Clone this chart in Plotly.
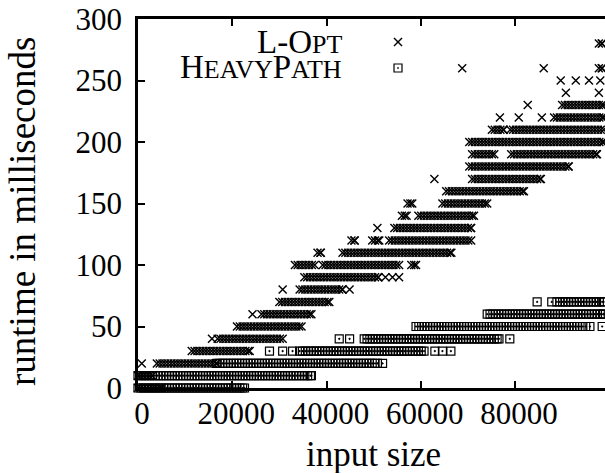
import numpy as np
import plotly.graph_objects as go

# ---- data: runs of measured points (runtime level in ms, first and last input size of the run) ----
STEP = 600  # spacing of input sizes inside a dense run

LOPT_LEVEL = [0, 10, 20, 20, 30, 40, 40, 50, 60, 60, 70, 80, 80, 80,
              90, 90, 90, 90, 100, 100, 100, 110, 110, 120, 120, 120,
              130, 130, 140, 140, 150, 150, 160, 170, 170, 180, 190, 190,
              200, 210, 210, 220, 220, 220, 220, 230, 230, 240, 240,
              250, 250, 250, 250, 260, 260, 260, 280]
LOPT_FROM = [0, 0, 800, 4000, 11400, 15700, 16900, 21000, 24300, 26200, 30000, 30700, 34300, 44900,
             35300, 52500, 54000, 55400, 33300, 39200, 58000, 38100, 43400, 45300, 49700, 53300,
             50800, 54400, 56000, 59500, 57200, 64600, 65400, 62900, 70900, 70300, 70900, 79200,
             70300, 75100, 79000, 76800, 80800, 85700, 88300, 82700, 90000, 90800, 97800,
             89700, 92900, 95700, 98100, 68800, 86100, 97800, 97800]
LOPT_TO = [5000, 3000, 800, 16700, 23700, 15700, 30700, 34700, 24300, 36800, 40600, 30700, 43400, 44900,
           51000, 52500, 54000, 55400, 37500, 55400, 59000, 38800, 66500, 46000, 51200, 70700,
           50800, 70700, 57000, 71300, 58200, 74100, 81900, 62900, 85500, 91400, 75600, 97400,
           98800, 77600, 98800, 76800, 80800, 85700, 98800, 82700, 98800, 90800, 97800,
           89700, 92900, 95700, 98100, 68800, 86100, 98500, 98500]

HEAVY_LEVEL = [0, 10, 20, 20, 30, 30, 30, 30, 30, 30, 30,
               40, 40, 40, 40, 50, 50, 50, 60, 70, 70, 70]
HEAVY_FROM = [0, 0, 16700, 51900, 27900, 30700, 32800, 34300, 63000, 64600, 66400,
              42700, 44900, 48000, 78900, 59000, 95900, 98500, 74100, 84700, 87800, 88900]
HEAVY_TO = [22600, 36800, 50800, 51900, 27900, 30700, 32800, 60700, 63000, 64600, 66400,
            42700, 44900, 76600, 78900, 95000, 95900, 98500, 98800, 84700, 87800, 98800]

X_TICKS = [0, 20000, 40000, 60000, 80000]
Y_TICKS = [0, 50, 100, 150, 200, 250, 300]
X_RANGE = [0, 99100]
Y_RANGE = [0, 300]


def expand(levels, starts, ends):
    xs, ys = [], []
    for lv, a, b in zip(levels, starts, ends):
        pts = np.arange(a, b + 1, STEP) if b > a else np.array([a])
        if pts[-1] != b:
            pts = np.append(pts, b)
        xs.extend(pts.tolist())
        ys.extend([lv] * len(pts))
    return xs, ys


lx, ly = expand(LOPT_LEVEL, LOPT_FROM, LOPT_TO)
hx, hy = expand(HEAVY_LEVEL, HEAVY_FROM, HEAVY_TO)

FONT = "Liberation Serif"
W, H = 605, 473
L, R, T, B = 138, 0, 19, 85
PW = W - L - R
PH = H - T - B


def px(xr):
    return (xr - L) / PW


def py(yr):
    return (H - B - yr) / PH


fig = go.Figure()
fig.add_trace(go.Scatter(
    x=lx, y=ly, mode="markers", name="L-Opt", showlegend=False, cliponaxis=False,
    marker=dict(symbol="x-thin", size=8, color="black", line=dict(width=1.4, color="black")),
))
fig.add_trace(go.Scatter(
    x=hx, y=hy, mode="markers", name="HeavyPath", showlegend=False, cliponaxis=False,
    marker=dict(symbol="square-open-dot", size=8, color="black", line=dict(width=1.2, color="black")),
))

axis_common = dict(
    showgrid=False, zeroline=False, showline=True, linecolor="black", linewidth=2.5,
    ticks="inside", ticklen=7, tickwidth=2, tickcolor="black",
    tickfont=dict(family=FONT, size=31, color="black"),
)
fig.update_xaxes(range=X_RANGE, tickvals=X_TICKS, ticktext=[str(v) for v in X_TICKS],
                 mirror="ticks", ticklabelstandoff=-4, ticklabelshift=4, **axis_common)
fig.update_yaxes(range=Y_RANGE, tickvals=Y_TICKS, ticktext=[str(v) for v in Y_TICKS],
                 mirror=False, ticklabelstandoff=7, **axis_common)

annotations = [
    dict(x=px(373), y=py(454), xref="paper", yref="paper", text="input size", showarrow=False,
         font=dict(family=FONT, size=35, color="black"), xanchor="center", yanchor="middle"),
    dict(x=px(22), y=py(212), xref="paper", yref="paper", text="runtime in milliseconds", showarrow=False,
         textangle=-90, font=dict(family=FONT, size=37, color="black"), xanchor="center", yanchor="middle"),
    dict(x=px(344), y=py(42), xref="paper", yref="paper",
         text="L-O<span style='font-size:26px'>PT</span>", showarrow=False,
         font=dict(family=FONT, size=33, color="black"), xanchor="right", yanchor="middle"),
    dict(x=px(344), y=py(67), xref="paper", yref="paper",
         text="H<span style='font-size:26px'>EAVY</span>P<span style='font-size:26px'>ATH</span>",
         showarrow=False, font=dict(family=FONT, size=33, color="black"), xanchor="right", yanchor="middle"),
]

# legend keys (gnuplot style: symbol to the right of the text)
shapes = []
cx, cy, s = 398, 42, 4
shapes.append(dict(type="line", xref="paper", yref="paper", x0=px(cx - s), y0=py(cy - s), x1=px(cx + s), y1=py(cy + s),
                   line=dict(color="black", width=1.4)))
shapes.append(dict(type="line", xref="paper", yref="paper", x0=px(cx - s), y0=py(cy + s), x1=px(cx + s), y1=py(cy - s),
                   line=dict(color="black", width=1.4)))
cx, cy = 398, 68
shapes.append(dict(type="rect", xref="paper", yref="paper", x0=px(cx - s), y0=py(cy - s), x1=px(cx + s), y1=py(cy + s),
                   line=dict(color="black", width=1.2)))
shapes.append(dict(type="rect", xref="paper", yref="paper", x0=px(cx - 0.8), y0=py(cy - 0.8), x1=px(cx + 0.8), y1=py(cy + 0.8),
                   line=dict(color="black", width=0), fillcolor="black"))

fig.update_layout(
    width=W, height=H, margin=dict(l=L, r=R, t=T, b=B, pad=0),
    paper_bgcolor="white", plot_bgcolor="white",
    annotations=annotations, shapes=shapes, showlegend=False,
)

fig.write_html("out.html", config={"displayModeBar": False},
               post_script="document.body.style.margin='0px';document.body.style.overflow='hidden';")
